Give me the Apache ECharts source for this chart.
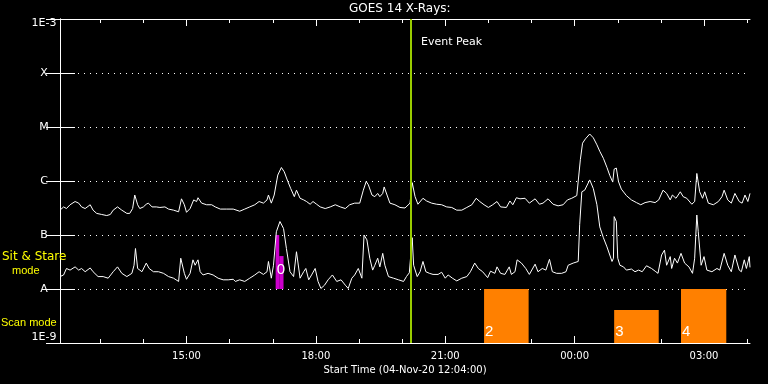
<!DOCTYPE html>
<html><head><meta charset="utf-8">
<script src="https://cdn.jsdelivr.net/npm/echarts@6/dist/echarts.min.js"></script>
<style>html,body{margin:0;padding:0;background:#000}#c{width:768px;height:384px}</style>
</head><body><div id="c"></div>
<script>
// Start of plot: 04-Nov-2020 12:04:00 (minute 724 of the day), span 16 hours (960 minutes)
const START_MIN_OF_DAY = 12 * 60 + 4;
const SPAN_MIN = 960;

// [minutes after start, log10 flux W/m^2] - GOES 1-8 A (long) channel
const longChannel = [[0,-6.54],[5,-6.48],[9,-6.51],[14,-6.44],[21,-6.38],[26,-6.41],[30,-6.48],[35,-6.51],[42,-6.44],[46,-6.54],[51,-6.60],[58,-6.62],[65,-6.64],[70,-6.62],[74,-6.54],[80,-6.48],[86,-6.54],[93,-6.60],[97,-6.60],[101,-6.51],[104,-6.26],[108,-6.44],[111,-6.51],[116,-6.48],[120,-6.43],[123,-6.41],[128,-6.48],[134,-6.48],[139,-6.49],[146,-6.48],[151,-6.52],[158,-6.54],[165,-6.57],[169,-6.33],[173,-6.44],[176,-6.58],[181,-6.51],[186,-6.35],[190,-6.38],[192,-6.31],[197,-6.41],[204,-6.44],[211,-6.44],[216,-6.48],[223,-6.52],[232,-6.52],[241,-6.52],
[250,-6.56],[257,-6.52],[264,-6.48],[271,-6.44],[277,-6.38],[283,-6.41],[288,-6.35],[290,-6.26],[294,-6.41],[298,-6.26],[303,-5.89],[308,-5.75],[312,-5.83],[317,-6.01],[321,-6.14],[326,-6.29],[329,-6.17],[334,-6.32],[339,-6.35],[343,-6.38],[348,-6.43],[352,-6.38],[357,-6.43],[362,-6.48],[369,-6.51],[376,-6.48],[383,-6.44],[390,-6.48],[397,-6.51],[403,-6.44],[410,-6.41],[417,-6.41],[422,-6.17],[426,-6.01],[429,-6.07],[434,-6.26],[438,-6.29],[442,-6.23],[445,-6.29],[449,-6.23],[451,-6.11],[455,-6.26],[459,-6.41],[466,-6.44],[473,-6.49],[480,-6.50],[487,-6.41],[490,-6.03],[494,-6.29],[498,-6.43],[505,-6.32],[510,-6.37],[517,-6.41],[524,-6.43],[531,-6.44],[538,-6.48],[545,-6.49],[552,-6.54],[559,-6.54],[566,-6.49],[573,-6.44],[579,-6.32],[584,-6.38],[590,-6.44],[596,-6.49],[602,-6.44],[608,-6.38],[613,-6.48],[621,-6.49],[626,-6.37],[630,-6.44],[635,-6.31],[640,-6.33],[647,-6.32],[653,-6.41],[661,-6.33],[667,-6.43],[672,-6.41],[679,-6.33],[686,-6.43],[693,-6.46],[700,-6.44],[706,-6.35],[712,-6.32],[719,-6.27],[721,-6.26],[724,-5.60],[727,-5.30],[731,-5.22],[737,-5.13],[742,-5.20],[747,-5.33],[751,-5.45],[756,-5.58],[761,-5.75],[765,-5.90],[769,-6.02],[771,-5.78],[774,-5.76],[777,-6.01],[781,-6.15],[788,-6.27],[795,-6.35],[802,-6.40],[808,-6.44],[814,-6.40],[821,-6.38],[828,-6.40],[833,-6.35],[839,-6.17],[844,-6.23],[849,-6.35],[852,-6.26],[857,-6.32],[863,-6.20],[867,-6.29],[872,-6.32],[879,-6.43],[883,-6.38],[886,-5.86],[890,-6.20],[894,-6.32],[897,-6.20],[902,-6.41],[909,-6.44],[916,-6.38],[921,-6.29],[924,-6.17],[929,-6.35],[934,-6.41],[939,-6.23],[945,-6.38],[949,-6.41],[953,-6.26],[957,-6.38],[960,-6.23]];

// [minutes after start, log10 flux W/m^2] - GOES 0.5-4 A (short) channel
const shortChannel = [[0,-7.77],[5,-7.74],[9,-7.62],[14,-7.65],[21,-7.59],[26,-7.65],[30,-7.62],[35,-7.68],[42,-7.61],[46,-7.68],[53,-7.77],[60,-7.77],[67,-7.80],[74,-7.68],[80,-7.59],[86,-7.71],[93,-7.77],[100,-7.71],[103,-7.56],[105,-7.25],[108,-7.62],[114,-7.68],[120,-7.52],[124,-7.62],[130,-7.68],[137,-7.68],[144,-7.71],[151,-7.77],[158,-7.80],[165,-7.86],[168,-7.43],[173,-7.71],[176,-7.82],[181,-7.71],[185,-7.46],[188,-7.56],[192,-7.46],[195,-7.68],[199,-7.74],[206,-7.71],[213,-7.74],[220,-7.80],[227,-7.83],[234,-7.83],[241,-7.82],
[244,-7.86],[250,-7.83],[257,-7.86],[264,-7.80],[271,-7.74],[277,-7.68],[283,-7.73],[288,-7.68],[290,-7.49],[294,-7.80],[297,-7.56],[301,-6.94],[306,-6.75],[311,-6.88],[315,-7.25],[320,-7.68],[325,-7.77],[329,-7.31],[334,-7.80],[339,-7.68],[342,-7.62],[346,-7.83],[350,-7.74],[355,-7.62],[359,-7.86],[363,-7.99],[368,-7.93],[373,-7.83],[379,-7.74],[385,-7.86],[391,-7.83],[397,-7.93],[401,-7.99],[406,-7.80],[410,-7.74],[415,-7.62],[420,-7.80],[423,-7.00],[427,-7.09],[431,-7.43],[435,-7.65],[438,-7.56],[442,-7.43],[445,-7.59],[449,-7.34],[452,-7.56],[457,-7.77],[464,-7.80],[471,-7.83],[478,-7.86],[482,-7.77],[486,-7.70],[490,-7.05],[492,-7.56],[497,-7.77],[501,-7.68],[505,-7.49],[509,-7.68],[514,-7.71],[519,-7.73],[526,-7.73],[531,-7.69],[536,-7.80],[540,-7.74],[546,-7.80],[552,-7.85],[559,-7.80],[566,-7.77],[571,-7.68],[577,-7.52],[582,-7.62],[588,-7.68],[595,-7.79],[599,-7.67],[605,-7.71],[608,-7.59],[613,-7.71],[619,-7.73],[625,-7.59],[628,-7.73],[633,-7.68],[636,-7.46],[642,-7.52],[648,-7.62],[653,-7.73],[661,-7.54],[665,-7.68],[671,-7.62],[676,-7.65],[681,-7.45],[685,-7.68],[691,-7.71],[698,-7.71],[704,-7.68],[707,-7.56],[714,-7.52],[721,-7.49],[723,-6.81],[726,-6.20],[730,-6.17],[737,-5.98],[742,-6.14],[747,-6.44],[751,-6.85],[756,-7.05],[761,-7.22],[768,-7.49],[770,-7.43],[771,-6.66],[774,-6.75],[776,-7.43],[779,-7.56],[784,-7.59],[788,-7.65],[795,-7.63],[800,-7.68],[805,-7.65],[810,-7.68],[816,-7.57],[823,-7.62],[829,-7.68],[832,-7.71],[837,-7.37],[841,-7.28],[844,-7.56],[849,-7.40],[851,-7.62],[855,-7.43],[859,-7.52],[864,-7.34],[869,-7.52],[875,-7.59],[880,-7.71],[883,-7.43],[886,-6.63],[888,-6.94],[892,-7.56],[896,-7.40],[900,-7.65],[907,-7.68],[914,-7.62],[918,-7.65],[924,-7.34],[929,-7.56],[934,-7.68],[939,-7.37],[945,-7.65],[948,-7.68],[952,-7.46],[955,-7.62],[959,-7.40],[960,-7.60]];

// Y axis levels (log10) and their labels
const yLevels = [-9, -8, -7, -6, -5, -4, -3];
const yLabels = ['1E-9', 'A', 'B', 'C', 'M', 'X', '1E-3'];

// X axis ticks: hour of 04-Nov-2020 (24+ = next day)
const majorTickHours = [15, 18, 21, 24, 27];
const minorTickHours = [13, 14, 16, 17, 19, 20, 22, 23, 25, 26, 28];

const eventPeakMin = 488;   // 20:12
const eventLabel = 'Event Peak';

// Sit & Stare observation (band A..B): [start min, end min, bottom log, top log]
const sitStareBlocks = [[300, 305, -8, -7], [305, 311, -8, -7.39]];
const sitStareLabels = ['0', ''];
// Scan mode observations (band 1E-9..A)
const scanBlocks = [[590, 652, -9, -8], [771, 833, -9, -8.39], [864, 927, -9, -8]];
const scanLabels = ['2', '3', '4'];

const hourToMin = h => h * 60 - START_MIN_OF_DAY;
const toXY = arr => arr.map(p => [p[0], Math.pow(10, p[1])]);
const toBlocks = arr => arr.map(b => [b[0], b[1], Math.pow(10, b[2]), Math.pow(10, b[3])]);
const majorTicks = majorTickHours.map(hourToMin);
const minorTicks = minorTickHours.map(hourToMin);
const fmtTime = m => {
  const tot = Math.round(m + START_MIN_OF_DAY) % 1440;
  return String(Math.floor(tot / 60)).padStart(2, '0') + ':' + String(tot % 60).padStart(2, '0');
};

const FONT = '"DejaVu Sans", sans-serif';
const LIB = '"Liberation Sans", sans-serif';
const WHITE = '#ffffff';

function blockRenderer(labels, dy) {
  return function (params, api) {
    const p0 = api.coord([api.value(0), api.value(3)]);
    const p1 = api.coord([api.value(1), api.value(2)]);
    const children = [{
      type: 'rect',
      shape: { x: p0[0], y: p0[1], width: p1[0] - p0[0], height: p1[1] - p0[1] },
      style: { fill: api.visual('color') }
    }];
    const lbl = labels[params.dataIndex];
    if (lbl) {
      children.push({
        type: 'text', z2: 10,
        x: p0[0] + 1, y: p1[1] - dy,
        style: { text: lbl, fill: WHITE, font: '15px "Liberation Sans", sans-serif', align: 'left', verticalAlign: 'bottom' }
      });
    }
    return { type: 'group', children: children };
  };
}

const xBase = {
  type: 'value', min: 0, max: SPAN_MIN, gridIndex: 0,
  splitLine: { show: false }
};

const option = {
  backgroundColor: '#000000',
  animation: false,
  title: [
    { text: 'GOES 14 X-Rays:', left: 349, top: 3, padding: 0, textStyle: { color: WHITE, fontSize: 12, fontWeight: 'normal', fontFamily: FONT } },
    { text: eventLabel, left: 421, top: 37, padding: 0, textStyle: { color: WHITE, fontSize: 11, fontWeight: 'normal', fontFamily: FONT } },
    { text: 'Sit & Stare', left: 2, top: 251, padding: 0, textStyle: { color: '#ffff00', fontSize: 12, fontWeight: 'normal', fontFamily: FONT } },
    { text: 'mode', left: 12, top: 265, padding: 0, textStyle: { color: '#ffff00', fontSize: 11, fontWeight: 'normal', fontFamily: LIB } },
    { text: 'Scan mode', left: 1, top: 317, padding: 0, textStyle: { color: '#ffff00', fontSize: 11, fontWeight: 'normal', fontFamily: LIB } }
  ],
  grid: { left: 60, right: 18, top: 19, bottom: 41, containLabel: false },
  xAxis: [
    Object.assign({}, xBase, {
      position: 'bottom',
      axisLine: { show: true, lineStyle: { color: WHITE, width: 1 } },
      axisTick: { show: true, inside: true, length: 7, lineStyle: { color: WHITE }, customValues: majorTicks },
      axisLabel: { show: true, color: WHITE, fontSize: 10, fontFamily: FONT, margin: 8, customValues: majorTicks, formatter: fmtTime },
      name: 'Start Time (04-Nov-20 12:04:00)', nameLocation: 'middle', nameGap: 20,
      nameTextStyle: { color: WHITE, fontSize: 10, fontFamily: FONT }
    }),
    Object.assign({}, xBase, {
      position: 'bottom',
      axisLine: { show: false },
      axisTick: { show: true, inside: true, length: 4, lineStyle: { color: WHITE }, customValues: minorTicks },
      axisLabel: { show: false }
    }),
    Object.assign({}, xBase, {
      position: 'top',
      axisLine: { show: true, lineStyle: { color: WHITE, width: 1 } },
      axisTick: { show: true, inside: true, length: 7, lineStyle: { color: WHITE }, customValues: majorTicks },
      axisLabel: { show: false }
    }),
    Object.assign({}, xBase, {
      position: 'top',
      axisLine: { show: false },
      axisTick: { show: true, inside: true, length: 4, lineStyle: { color: WHITE }, customValues: minorTicks },
      axisLabel: { show: false }
    })
  ],
  yAxis: [
    {
      type: 'log', logBase: 10, min: 1e-9, max: 1e-3, splitNumber: 6, position: 'left',
      axisLine: { show: true, lineStyle: { color: WHITE, width: 1 } },
      axisTick: { show: true, inside: true, length: 15, lineStyle: { color: WHITE } },
      minorTick: { show: false },
      splitLine: { show: true, lineStyle: { color: WHITE, width: 1, type: [1, 5] } },
      axisLabel: {
        show: true, color: WHITE, fontSize: 11, fontFamily: FONT, align: 'center', margin: 16,
        verticalAlignMinLabel: 'bottom',
        formatter: function (v) {
          const e = Math.round(Math.log10(v));
          const i = yLevels.indexOf(e);
          if (i < 0) return '';
          return (i === yLevels.length - 1 ? '{top|' : '{mid|') + yLabels[i] + '}';
        },
        rich: {
          top: { color: WHITE, fontSize: 11, fontFamily: FONT, padding: [8, 0, 0, 0] },
          mid: { color: WHITE, fontSize: 11, fontFamily: FONT }
        }
      }
    },
    {
      type: 'log', logBase: 10, min: 1e-9, max: 1e-3, splitNumber: 6, position: 'right',
      axisLine: { show: true, lineStyle: { color: WHITE, width: 1 } },
      axisTick: { show: true, inside: true, length: 14, lineStyle: { color: WHITE } },
      splitLine: { show: false },
      axisLabel: { show: false }
    }
  ],
  series: [
    {
      name: 'Sit & Stare', type: 'custom', xAxisIndex: 0, yAxisIndex: 0, z: 1,
      itemStyle: { color: '#cc00cc' },
      encode: { x: [0, 1], y: [2, 3] },
      renderItem: blockRenderer(sitStareLabels, 12),
      data: toBlocks(sitStareBlocks)
    },
    {
      name: 'Scan', type: 'custom', xAxisIndex: 0, yAxisIndex: 0, z: 1,
      itemStyle: { color: '#ff8000' },
      encode: { x: [0, 1], y: [2, 3] },
      renderItem: blockRenderer(scanLabels, 4),
      data: toBlocks(scanBlocks)
    },
    {
      name: 'Long', type: 'line', xAxisIndex: 0, yAxisIndex: 0, z: 3,
      showSymbol: false, symbol: 'none',
      lineStyle: { color: WHITE, width: 1 },
      data: toXY(longChannel)
    },
    {
      name: 'Short', type: 'line', xAxisIndex: 0, yAxisIndex: 0, z: 3,
      showSymbol: false, symbol: 'none',
      lineStyle: { color: WHITE, width: 1 },
      data: toXY(shortChannel)
    },
    {
      name: 'Event', type: 'line', xAxisIndex: 0, yAxisIndex: 0, z: 5, data: [],
      markLine: {
        silent: true, symbol: ['none', 'none'], label: { show: false },
        lineStyle: { color: '#99cc00', width: 2, type: 'solid' },
        data: [{ xAxis: eventPeakMin }]
      }
    }
  ]
};

const chart = echarts.init(document.getElementById('c'), null, { renderer: 'canvas' });
chart.setOption(option);
</script>
</body></html>
